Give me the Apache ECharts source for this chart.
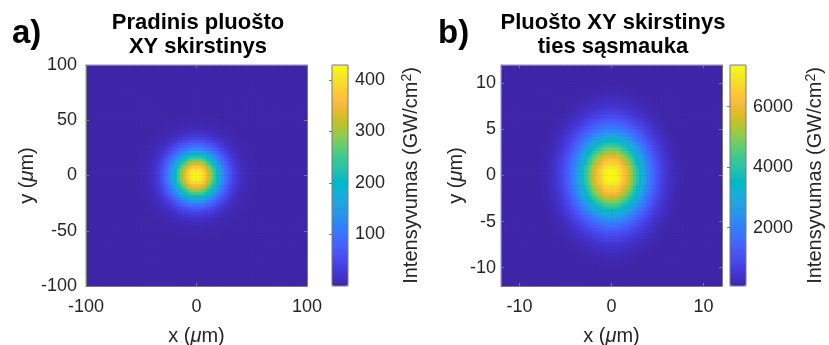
<!DOCTYPE html>
<html><head><meta charset="utf-8">
<script src="https://cdn.jsdelivr.net/npm/echarts@6/dist/echarts.min.js"></script>
<style>html,body{margin:0;padding:0;background:#fff}#c{width:829px;height:345px}</style>
</head><body><div id="c"></div>
<script>
// ---------- data: panel a (initial beam) ----------
const aXLim = [-100, 100];
const aYLim = [-100, 100];
const aXTicks = [-100, 0, 100];
const aYTicks = [-100, -50, 0, 50, 100];
const aCbarRange = [0, 429];
const aCbarTicks = [100, 200, 300, 400];
const aCellsPerHalf = 40; // 2.5 um cells
// intensity (GW/cm^2) read along the centre row / centre column, from the centre outward, one value per 2.5 um cell
const aProfileX = [428, 417, 396, 366, 330, 290, 249, 208, 169, 134, 103, 78, 57, 41, 28, 19, 13, 8, 5, 3, 2, 1];
const aProfileY = [428, 417, 396, 366, 330, 290, 249, 208, 169, 134, 103, 78, 57, 41, 28, 19, 13, 8, 5, 3, 2, 1];

// ---------- data: panel b (beam at the waist) ----------
const bXLim = [-12, 12];
const bYLim = [-12, 12];
const bXTicks = [-10, 0, 10];
const bYTicks = [-10, -5, 0, 5, 10];
const bCbarRange = [70, 7380];
const bCbarTicks = [2000, 4000, 6000];
const bCellsPerHalf = 40; // 0.3 um cells
const bProfileX = [7368, 7269, 7075, 6794, 6437, 6017, 5549, 5048, 4532, 4013, 3507, 3023, 2571, 2157, 1785, 1458, 1175, 934, 733, 567, 433, 326, 242, 178, 128, 92, 65, 45, 31, 21, 14, 9, 6, 4, 2, 2, 1, 1, 0, 0];
const bProfileY = [7372, 7304, 7170, 6975, 6723, 6421, 6077, 5699, 5298, 4881, 4457, 4034, 3621, 3222, 2843, 2489, 2161, 1862, 1592, 1352, 1140, 954, 794, 657, 540, 442, 360, 292, 236, 190, 153, 122, 98, 78, 62, 49, 39, 31, 25, 19];

// ---------- texts ----------
const titleA = ['Pradinis pluošto', 'XY skirstinys'];
const titleB = ['Pluošto XY skirstinys', 'ties sąsmauka'];
const cbarName = 'Intensyvumas (GW/cm';

// ---------- colormap (parula) ----------
const parula = [[0.2422,0.1504,0.6603],[0.2504,0.1650,0.7076],[0.2578,0.1818,0.7511],[0.2647,0.1978,0.7952],[0.2706,0.2147,0.8364],[0.2751,0.2342,0.8710],[0.2783,0.2559,0.8991],[0.2803,0.2782,0.9221],[0.2813,0.3006,0.9414],[0.2810,0.3228,0.9579],[0.2795,0.3447,0.9717],[0.2760,0.3667,0.9829],[0.2699,0.3892,0.9906],[0.2602,0.4123,0.9952],[0.2440,0.4358,0.9988],[0.2206,0.4603,0.9973],[0.1963,0.4847,0.9892],[0.1834,0.5074,0.9798],[0.1786,0.5289,0.9682],[0.1764,0.5499,0.9520],[0.1687,0.5703,0.9359],[0.1540,0.5902,0.9218],[0.1460,0.6091,0.9079],[0.1380,0.6276,0.8973],[0.1248,0.6459,0.8883],[0.1113,0.6635,0.8763],[0.0952,0.6798,0.8598],[0.0689,0.6948,0.8394],[0.0297,0.7082,0.8163],[0.0036,0.7203,0.7917],[0.0067,0.7312,0.7660],[0.0433,0.7411,0.7394],[0.0964,0.7500,0.7120],[0.1408,0.7584,0.6842],[0.1717,0.7670,0.6554],[0.1938,0.7758,0.6251],[0.2161,0.7843,0.5923],[0.2470,0.7918,0.5567],[0.2906,0.7973,0.5188],[0.3406,0.8008,0.4789],[0.3909,0.8029,0.4354],[0.4456,0.8024,0.3909],[0.5044,0.7993,0.3480],[0.5616,0.7942,0.3045],[0.6174,0.7876,0.2612],[0.6720,0.7793,0.2227],[0.7242,0.7698,0.1910],[0.7738,0.7598,0.1646],[0.8203,0.7498,0.1535],[0.8634,0.7406,0.1596],[0.9035,0.7330,0.1774],[0.9393,0.7288,0.2100],[0.9728,0.7298,0.2394],[0.9956,0.7434,0.2371],[0.9970,0.7659,0.2199],[0.9952,0.7893,0.2028],[0.9892,0.8136,0.1885],[0.9786,0.8386,0.1766],[0.9676,0.8639,0.1643],[0.9610,0.8890,0.1537],[0.9597,0.9135,0.1423],[0.9628,0.9373,0.1265],[0.9691,0.9606,0.1064],[0.9769,0.9839,0.0805]];
const cmap = parula.map(c => 'rgb(' + c.map(v => Math.round(v * 255)).join(',') + ')');

// ---------- build ----------
function fullProfile(half, nHalf) {
  const h = [];
  for (let k = 0; k < nHalf; k++) h.push(k < half.length ? half[k] : 0);
  return h.slice().reverse().concat(h);
}
function buildCells(px, py) {
  const norm = Math.max.apply(null, py);
  const d = [];
  for (let i = 0; i < px.length; i++)
    for (let j = 0; j < py.length; j++)
      d.push([i, j, px[i] * py[j] / norm]);
  return d;
}
const aPX = fullProfile(aProfileX, aCellsPerHalf), aPY = fullProfile(aProfileY, aCellsPerHalf);
const bPX = fullProfile(bProfileX, bCellsPerHalf), bPY = fullProfile(bProfileY, bCellsPerHalf);
const aData = buildCells(aPX, aPY);
const bData = buildCells(bPX, bPY);
const idx = n => Array.from({length: n}, (_, i) => String(i));

const FONT = 'Arial, "Liberation Sans", Helvetica, sans-serif';
const AX = '#7a7a7a';
const TXT = '#262626';
const plain = v => String(v);

function catAxis(g, n) { return {gridIndex: g, type: 'category', data: idx(n), show: false}; }
function valAxis(g, pos, lim, ticks, showLabel, margin, name, nameGap) {
  const o = {
    gridIndex: g, type: 'value', position: pos, min: lim[0], max: lim[1], z: 10,
    axisLine: {show: true, onZero: false, lineStyle: {color: AX, width: 1}},
    axisTick: {show: true, inside: true, length: 3, customValues: ticks, lineStyle: {color: AX}},
    axisLabel: {show: showLabel, customValues: ticks, margin: margin, fontSize: 18, color: TXT, fontFamily: FONT, formatter: plain},
    splitLine: {show: false}
  };
  if (name) {
    o.name = name; o.nameLocation = 'middle'; o.nameGap = nameGap;
    o.nameTextStyle = {fontSize: 20, color: TXT, fontFamily: FONT,
      rich: {n: {fontSize: 20, color: TXT, fontFamily: FONT}, mu: {fontSize: 20, color: TXT, fontFamily: FONT, fontStyle: 'italic'}}};
  }
  return o;
}
function cbarAxis(g, lim, ticks, nameGap) {
  return {
    gridIndex: g, type: 'value', position: 'right', min: lim[0], max: lim[1], z: 10,
    axisLine: {show: false},
    axisTick: {show: true, inside: true, length: 3, customValues: ticks, lineStyle: {color: AX}},
    axisLabel: {show: true, customValues: ticks, margin: 7, fontSize: 18, color: TXT, fontFamily: FONT, formatter: plain},
    splitLine: {show: false},
    name: '{n|' + cbarName + '}{s|2}{n|)}', nameLocation: 'middle', nameRotate: 90, nameGap: nameGap,
    nameTextStyle: {fontSize: 20, color: TXT, fontFamily: FONT,
      rich: {n: {fontSize: 20, color: TXT, fontFamily: FONT}, s: {fontSize: 14, color: TXT, fontFamily: FONT, verticalAlign: 'top', padding: [0, 0, 8, 0]}}}
  };
}
const xName = '{n|x (}{mu|μ}{n|m)}';
const yName = '{n|y (}{mu|μ}{n|m)}';

const gridBase = {outerBoundsMode: 'none', containLabel: false};
const option = {
  backgroundColor: '#fff',
  animation: false,
  grid: [
    Object.assign({left: 86, top: 65, width: 221, height: 221, show: true, borderWidth: 0, backgroundColor: cmap[0]}, gridBase),
    Object.assign({left: 332, top: 65, width: 16, height: 221, show: true, borderColor: AX, borderWidth: 1, backgroundColor: 'transparent', z: 10}, gridBase),
    Object.assign({left: 501, top: 65, width: 221, height: 221, show: true, borderWidth: 0, backgroundColor: cmap[0]}, gridBase),
    Object.assign({left: 730, top: 65, width: 16, height: 221, show: true, borderColor: AX, borderWidth: 1, backgroundColor: 'transparent', z: 10}, gridBase)
  ],
  xAxis: [
    catAxis(0, aPX.length),
    valAxis(0, 'bottom', aXLim, aXTicks, true, 12, xName, 40),
    valAxis(0, 'top', aXLim, aXTicks, false, 0),
    {gridIndex: 1, type: 'value', show: false},
    catAxis(2, bPX.length),
    valAxis(2, 'bottom', bXLim, bXTicks, true, 12, xName, 40),
    valAxis(2, 'top', bXLim, bXTicks, false, 0),
    {gridIndex: 3, type: 'value', show: false}
  ],
  yAxis: [
    catAxis(0, aPY.length),
    valAxis(0, 'left', aYLim, aYTicks, true, 9, yName, 31),
    valAxis(0, 'right', aYLim, aYTicks, false, 0),
    cbarAxis(1, aCbarRange, aCbarTicks, 52),
    catAxis(2, bPY.length),
    valAxis(2, 'left', bYLim, bYTicks, true, 5, yName, 32),
    valAxis(2, 'right', bYLim, bYTicks, false, 0),
    cbarAxis(3, bCbarRange, bCbarTicks, 58)
  ],
  visualMap: [
    {type: 'continuous', seriesIndex: 0, min: aCbarRange[0], max: aCbarRange[1], inRange: {color: cmap},
     left: 332, top: 65, itemWidth: 16, itemHeight: 221, padding: 0, calculable: false, hoverLink: false},
    {type: 'continuous', seriesIndex: 1, min: bCbarRange[0], max: bCbarRange[1], inRange: {color: cmap},
     left: 730, top: 65, itemWidth: 16, itemHeight: 221, padding: 0, calculable: false, hoverLink: false}
  ],
  series: [
    {type: 'heatmap', xAxisIndex: 0, yAxisIndex: 0, data: aData, progressive: 0, z: 2},
    {type: 'heatmap', xAxisIndex: 4, yAxisIndex: 4, data: bData, progressive: 0, z: 2}
  ],
  graphic: [
    {type: 'text', x: 198, y: 23, style: {text: titleA[0], textAlign: 'center', textVerticalAlign: 'middle', font: 'bold 22px ' + FONT, fill: '#000'}},
    {type: 'text', x: 198, y: 47, style: {text: titleA[1], textAlign: 'center', textVerticalAlign: 'middle', font: 'bold 22px ' + FONT, fill: '#000'}},
    {type: 'text', x: 613, y: 23, style: {text: titleB[0], textAlign: 'center', textVerticalAlign: 'middle', font: 'bold 22px ' + FONT, fill: '#000'}},
    {type: 'text', x: 613, y: 47, style: {text: titleB[1], textAlign: 'center', textVerticalAlign: 'middle', font: 'bold 22px ' + FONT, fill: '#000'}},
    {type: 'text', x: 12, y: 34, style: {text: 'a)', textAlign: 'left', textVerticalAlign: 'middle', font: 'bold 33px ' + FONT, fill: '#000'}},
    {type: 'text', x: 438, y: 34, style: {text: 'b)', textAlign: 'left', textVerticalAlign: 'middle', font: 'bold 33px ' + FONT, fill: '#000'}}
  ]
};
const chart = echarts.init(document.getElementById('c'), null, {renderer: 'canvas'});
chart.setOption(option);
</script>
</body></html>
